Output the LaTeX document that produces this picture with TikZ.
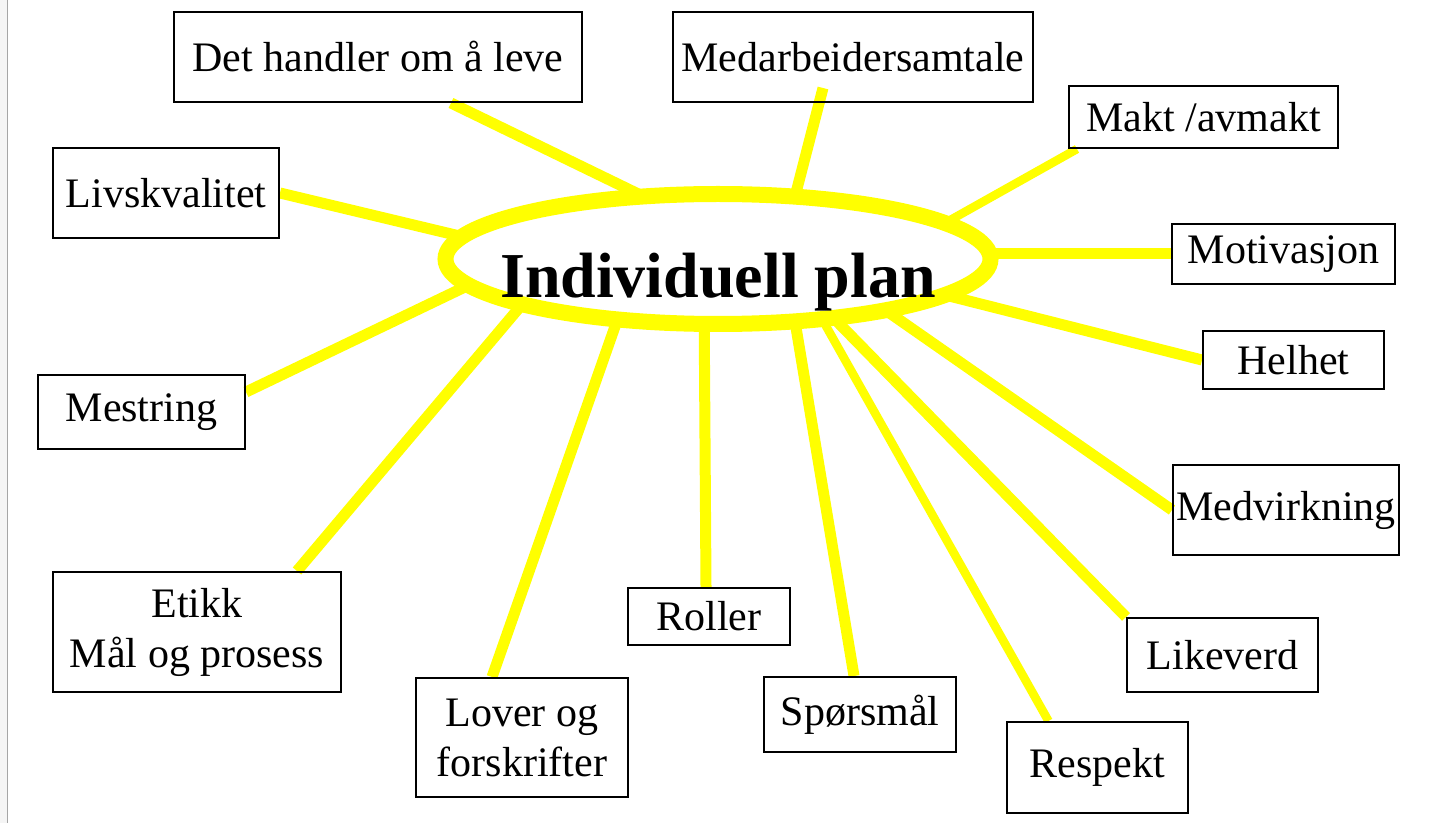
\documentclass[tikz,border=0pt]{standalone}
\usepackage{fontspec}
\setmainfont{Liberation Serif}
\usetikzlibrary{shapes.geometric,backgrounds}
\definecolor{sunyellow}{RGB}{255,255,0}
\newcommand{\boxfont}{\fontsize{21}{25}\selectfont}
\newcommand{\titlefont}{\bfseries\fontsize{32}{38}\selectfont}

\begin{document}
\begin{tikzpicture}[x=0.5pt,y=-0.5pt,
    box/.style={draw, line width=1pt, inner sep=0pt, align=center, font=\boxfont},
    ray/.style={sunyellow, line width=5.5pt},
    thinray/.style={sunyellow, line width=4.3pt}]
    \useasboundingbox (0,0) rectangle (1433,823);
    \fill[gray!8] (0,0) rectangle (7,823);
    \draw[gray!70, line width=0.75pt] (7.5,0) -- (7.5,823);

    \node[ellipse, draw=sunyellow, line width=8pt, outer sep=0pt, inner sep=0pt,
          minimum width=272.5pt, minimum height=65pt] (ip) at (718,259) {};
    \node[font=\titlefont, anchor=base] (iptitle) at (718,298) {Individuell plan};

    \node[box, minimum width=204pt, minimum height=45pt] (leve) at (378,57) {Det handler om å leve};
    \node[box, minimum width=180pt, minimum height=45pt] (samtale) at (853,57) {Medarbeidersamtale};
    \node[box, minimum width=134.5pt, minimum height=31pt] (makt) at (1203.5,117) {Makt /avmakt};
    \node[box, minimum width=113pt, minimum height=45pt] (livs) at (166,193) {Livskvalitet};
    \node[box, minimum width=111.5pt, minimum height=30pt] (motiv) at (1283.5,254) {Motivasjon};
    \node[box, minimum width=90.5pt, minimum height=29pt] (helhet) at (1293.5,360) {Helhet};
    \node[box, minimum width=103.5pt, minimum height=37pt] (mestr) at (141.5,412) {Mestring};
    \node[box, minimum width=113pt, minimum height=45pt] (medv) at (1286,510) {Medvirkning};
    \node[box, minimum width=144pt, minimum height=60pt] (etikk) at (197,632) {Etikk\\Mål og prosess};
    \node[box, minimum width=81pt, minimum height=28.5pt] (roller) at (709,616.5) {Roller};
    \node[box, minimum width=95.5pt, minimum height=37pt] (likev) at (1222.5,655) {Likeverd};
    \node[box, minimum width=106pt, minimum height=59.5pt] (lover) at (522,737.5) {Lover og\\forskrifter};
    \node[box, minimum width=96pt, minimum height=37.5pt] (sporsm) at (860,714.5) {Spørsmål};
    \node[box, minimum width=90.5pt, minimum height=45.5pt] (resp) at (1097.5,767.5) {Respekt};

    \begin{pgfonlayer}{background}
    \draw[ray] (ip.140) -- ([xshift=36.5pt]leve.south);
    \draw[ray] (ip.39.1) -- ([xshift=-15pt,yshift=7.5pt]samtale.south);
    \draw[thinray] (ip.9.1) -- ([xshift=4.5pt]makt.south west);
    \draw[ray] (ip.175.2) -- (livs.east);
    \draw[ray] (ip.east |- motiv.west) -- (motiv.west);
    \draw[ray] (ip.-9.6) -- (helhet.west);
    \draw[ray] (ip.-174.4) -- ([yshift=10pt]mestr.east);
    \draw[ray] (ip.-17.8) -- (medv.west);
    \draw[ray] (ip.-167.8) -- ([xshift=50pt]etikk.north);
    \draw[ray] (ip.-102.2) -- ([xshift=-1.5pt]roller.north);
    \draw[ray] (ip.-27.8) -- (likev.north west);
    \draw[ray] (ip.-149.7) -- ([xshift=-15pt]lover.north);
    \draw[ray] (ip.-39.3) -- ([xshift=-3pt]sporsm.north);
    \draw[thinray] (ip.-30.6) -- ([xshift=-24.5pt]resp.north);
    \end{pgfonlayer}
\end{tikzpicture}
\end{document}
